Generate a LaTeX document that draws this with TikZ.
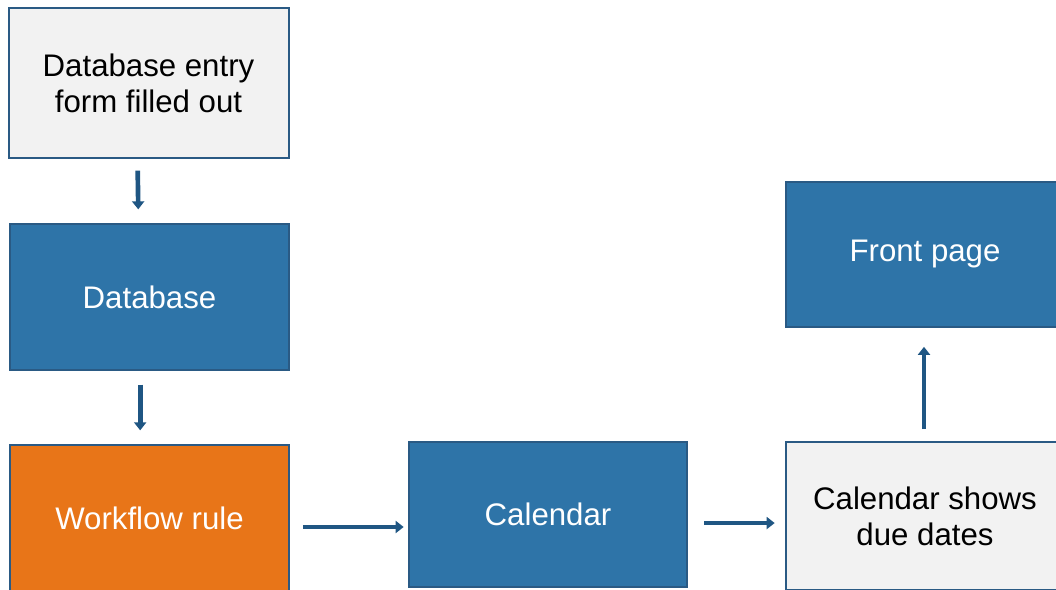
\documentclass[tikz,border=0pt]{standalone}
\usepackage{fontspec}
\setmainfont{Liberation Sans}
\usepackage{tikz}
\usetikzlibrary{arrows.meta,positioning,calc}
\definecolor{wfBlue}{HTML}{2E74A8}
\definecolor{wfEdge}{HTML}{2A5A84}
\definecolor{wfGray}{HTML}{F2F2F2}
\definecolor{wfOrange}{HTML}{E87518}
\definecolor{wfArrow}{HTML}{1F5683}
\tikzset{
  wfbox/.style={draw=wfEdge,line width=1.5pt,fill=wfBlue,text=white,align=center,
                minimum width=209pt,minimum height=109pt,inner sep=0pt,
                font=\fontsize{23.4}{27}\selectfont},
  wfnote/.style={wfbox,fill=wfGray,text=black},
  wfrule/.style={wfbox,fill=wfOrange},
  wfflow/.style={-{Triangle[width=9pt,length=6pt]},draw=wfArrow,line width=3.5pt},
}

\begin{document}
\begin{tikzpicture}[x=0.75pt,y=-0.75pt]
  \useasboundingbox (0,0) rectangle (1056,589);
  \clip (0,0) rectangle (1056,589);
  \node[wfnote,minimum width=210pt,minimum height=112pt] (form) at (148.5,83) {Database entry\\form filled out};
  \node[wfbox] (db) at (149.5,297) {Database};
  \node[wfrule] (rule) at (149.5,518) {Workflow rule};
  \node[wfbox] (cal) at (548,514.5) {Calendar};
  \node[wfnote,minimum height=111pt] (due) at (925,516) {Calendar shows\\due dates};
  \node[wfbox] (front) at (925,254.5) {Front page};

  \draw[wfflow,shorten <=9pt,shorten >=10.5pt] ([xshift=-8.25pt]form.south) -- ([xshift=-8.25pt]db.north);
  \draw[wfflow,shorten <=10.5pt,shorten >=10.5pt] ([xshift=-7pt]db.south) -- ([xshift=-7pt]rule.north);
  \draw[wfflow,shorten <=9.75pt,shorten >=3pt] ([yshift=-6.75pt]rule.east) -- ([yshift=-6.75pt]rule.east -| cal.west);
  \draw[wfflow,shorten <=12pt,shorten >=7.5pt] ([yshift=-6.4pt]cal.east) -- ([yshift=-6.4pt]cal.east -| due.west);
  \draw[wfflow,shorten <=9pt,shorten >=14pt] ([xshift=-0.75pt]due.north) -- ([xshift=-0.75pt]due.north |- front.south);
\end{tikzpicture}
\end{document}
